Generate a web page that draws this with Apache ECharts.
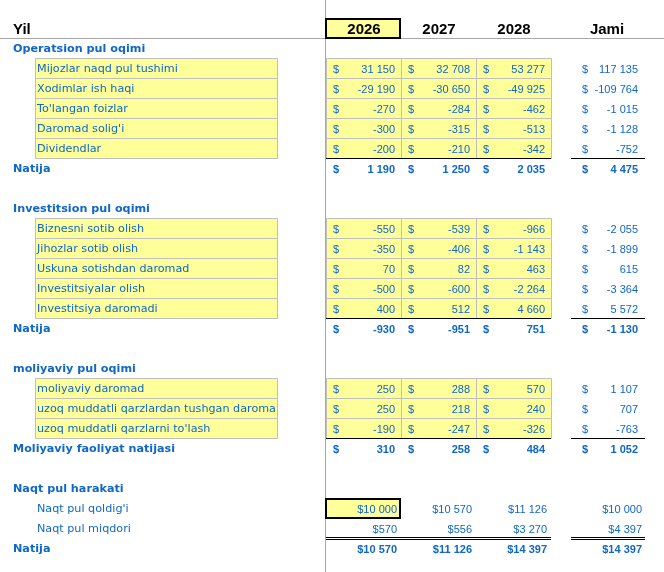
<!DOCTYPE html>
<html><head><meta charset="utf-8">
<script src="https://cdn.jsdelivr.net/npm/echarts@6/dist/echarts.min.js"></script>
<style>html,body{margin:0;padding:0;background:#fff}#c{width:664px;height:572px}</style>
</head><body><div id="c"></div>
<script>
// ---------- data ----------
const headerLabel = 'Yil';
const years = ['2026', '2027', '2028'];
const jamiLabel = 'Jami';
const totalLabel = 'Natija';

const opTitle = 'Operatsion pul oqimi';
const opLabels = ['Mijozlar naqd pul tushimi', 'Xodimlar ish haqi', "To'langan foizlar", "Daromad solig'i", 'Dividendlar'];
const opValues = [[31150, 32708, 53277], [-29190, -30650, -49925], [-270, -284, -462], [-300, -315, -513], [-200, -210, -342]];
const opJami = [117135, -109764, -1015, -1128, -752];
const opTotal = [1190, 1250, 2035];
const opTotalJami = 4475;

const invTitle = 'Investitsion pul oqimi';
const invLabels = ['Biznesni sotib olish', 'Jihozlar sotib olish', 'Uskuna sotishdan daromad', 'Investitsiyalar olish', 'Investitsiya daromadi'];
const invValues = [[-550, -539, -966], [-350, -406, -1143], [70, 82, 463], [-500, -600, -2264], [400, 512, 4660]];
const invJami = [-2055, -1899, 615, -3364, 5572];
const invTotal = [-930, -951, 751];
const invTotalJami = -1130;

const finTitle = 'moliyaviy pul oqimi';
const finLabels = ['moliyaviy daromad', 'uzoq muddatli qarzlardan tushgan daromad', "uzoq muddatli qarzlarni to'lash"];
const finValues = [[250, 288, 570], [250, 218, 240], [-190, -247, -326]];
const finJami = [1107, 707, -763];
const finTotalLabel = 'Moliyaviy faoliyat natijasi';
const finTotal = [310, 258, 484];
const finTotalJami = 1052;

const cashTitle = 'Naqt pul harakati';
const cashLabels = ["Naqt pul qoldig'i", 'Naqt pul miqdori'];
const cashValues = [[10000, 10570, 11126], [570, 556, 3270]];
const cashJami = [10000, 4397];
const cashTotal = [10570, 11126, 14397];
const cashTotalJami = 14397;

// ---------- layout (styles / positions) ----------
const BLUE = '#0f67c6';
const YELLOW = '#ffff99';
const GRID = '#bfbfbf';
const LINE = '#a6a6a6';
const COL_L = [326, 401, 476];
const COL_W = 75;
const JAMI_L = 571, JAMI_R = 645;
const LABEL_L = 35, LABEL_R = 277;
const TITLE_X = 13, ITEM_X = 37;
const FONT_LBL = '11.2px "DejaVu Sans"';
const FONT_LBL_B = 'bold 11.2px "DejaVu Sans"';
const FONT_NUM = '11px "Liberation Sans"';
const FONT_NUM_B = 'bold 11px "Liberation Sans"';
const FONT_HEAD = 'bold 15px "Liberation Sans"';

function fmt(n) {
  const s = Math.abs(n).toString().replace(/\B(?=(\d{3})+(?!\d))/g, ' ');
  return (n < 0 ? '-' : '') + s;
}

// ---------- build row list ----------
const rows = [];
rows.push({ type: 'header' });
function addSection(title, labels, values, jami, tLabel, total, tJami) {
  rows.push({ type: 'title', label: title });
  labels.forEach((l, i) => rows.push({ type: 'item', label: l, values: values[i], jami: jami[i] }));
  rows.push({ type: 'total', label: tLabel, values: total, jami: tJami });
}
addSection(opTitle, opLabels, opValues, opJami, totalLabel, opTotal, opTotalJami);
rows.push({ type: 'blank' });
addSection(invTitle, invLabels, invValues, invJami, totalLabel, invTotal, invTotalJami);
rows.push({ type: 'blank' });
addSection(finTitle, finLabels, finValues, finJami, finTotalLabel, finTotal, finTotalJami);
rows.push({ type: 'blank' });
rows.push({ type: 'title', label: cashTitle });
cashLabels.forEach((l, i) => rows.push({ type: 'cash', label: l, values: cashValues[i], jami: cashJami[i], first: i === 0 }));
rows.push({ type: 'cashTotal', label: totalLabel, values: cashTotal, jami: cashTotalJami });

const rowData = rows.map((r, i) => [0, i]);

function txt(x, y, text, font, fill, align) {
  return { type: 'text', style: { x: x, y: y, text: text, font: font, fill: fill, textAlign: align || 'left', textVerticalAlign: 'middle' } };
}

function renderItem(params, api) {
  const r = rows[params.dataIndex];
  const k = api.value(1);
  const top = Math.round(api.coord([0, k])[1]);
  const bot = Math.round(api.coord([0, k + 1])[1]);
  const mid = (top + bot) / 2 + 1.5;
  const X = (v) => Math.round(api.coord([v, k])[0]);
  const ch = [];
  if (r.type === 'header') {
    const y0 = api.coord([0, -0.9])[1], y1 = api.coord([0, rows.length + 0.7])[1];
    ch.push({ type: 'line', shape: { x1: X(325) + 0.5, y1: y0, x2: X(325) + 0.5, y2: y1 }, style: { stroke: LINE, lineWidth: 1 } });
    ch.push({ type: 'line', shape: { x1: X(0), y1: bot + 0.5, x2: X(664), y2: bot + 0.5 }, style: { stroke: LINE, lineWidth: 1 } });
    ch.push({ type: 'rect', shape: { x: X(COL_L[0]), y: top + 1, width: COL_W - 1, height: bot - top - 1 }, style: { fill: YELLOW, stroke: '#000', lineWidth: 2 } });
    ch.push(txt(X(TITLE_X), mid, headerLabel, FONT_HEAD, '#000'));
    years.forEach((y, c) => ch.push(txt(X(COL_L[c] + COL_W / 2), mid, y, FONT_HEAD, '#000', 'center')));
    ch.push(txt(X((JAMI_L + JAMI_R) / 2 - 1), mid, jamiLabel, FONT_HEAD, '#000', 'center'));
  } else if (r.type === 'title') {
    ch.push(txt(X(TITLE_X), mid, r.label, FONT_LBL_B, BLUE));
  } else if (r.type === 'item') {
    ch.push({ type: 'rect', shape: { x: X(LABEL_L) + 0.5, y: top + 0.5, width: LABEL_R - LABEL_L, height: bot - top }, style: { fill: YELLOW, stroke: GRID, lineWidth: 1 } });
    ch.push({ type: 'text', style: { x: X(ITEM_X), y: mid, text: r.label, font: FONT_LBL, fill: BLUE, textAlign: 'left', textVerticalAlign: 'middle', width: LABEL_R - ITEM_X, overflow: 'truncate', ellipsis: '' } });
    r.values.forEach((v, c) => {
      ch.push({ type: 'rect', shape: { x: X(COL_L[c]) + 0.5, y: top + 0.5, width: COL_W, height: bot - top }, style: { fill: YELLOW, stroke: GRID, lineWidth: 1 } });
      ch.push(txt(X(COL_L[c] + 7), mid, '$', FONT_NUM, BLUE));
      ch.push(txt(X(COL_L[c] + COL_W - 6), mid, fmt(v), FONT_NUM, BLUE, 'right'));
    });
    ch.push(txt(X(JAMI_L + 11), mid, '$', FONT_NUM, BLUE));
    ch.push(txt(X(JAMI_R - 7), mid, fmt(r.jami), FONT_NUM, BLUE, 'right'));
  } else if (r.type === 'total') {
    ch.push({ type: 'line', shape: { x1: X(COL_L[0]), y1: top + 0.5, x2: X(COL_L[2] + COL_W), y2: top + 0.5 }, style: { stroke: '#000', lineWidth: 1 } });
    ch.push({ type: 'line', shape: { x1: X(JAMI_L), y1: top + 0.5, x2: X(JAMI_R), y2: top + 0.5 }, style: { stroke: '#000', lineWidth: 1 } });
    ch.push(txt(X(TITLE_X), mid, r.label, FONT_LBL_B, BLUE));
    r.values.forEach((v, c) => {
      ch.push(txt(X(COL_L[c] + 7), mid, '$', FONT_NUM_B, BLUE));
      ch.push(txt(X(COL_L[c] + COL_W - 6), mid, fmt(v), FONT_NUM_B, BLUE, 'right'));
    });
    ch.push(txt(X(JAMI_L + 11), mid, '$', FONT_NUM_B, BLUE));
    ch.push(txt(X(JAMI_R - 7), mid, fmt(r.jami), FONT_NUM_B, BLUE, 'right'));
  } else if (r.type === 'cash') {
    if (r.first) {
      ch.push({ type: 'rect', shape: { x: X(COL_L[0]), y: top + 1, width: COL_W - 1, height: bot - top - 1 }, style: { fill: YELLOW, stroke: '#000', lineWidth: 2 } });
    }
    ch.push(txt(X(ITEM_X), mid, r.label, FONT_LBL, BLUE));
    r.values.forEach((v, c) => ch.push(txt(X(COL_L[c] + COL_W - 4), mid, '$' + fmt(v), FONT_NUM, BLUE, 'right')));
    ch.push(txt(X(JAMI_R - 3), mid, '$' + fmt(r.jami), FONT_NUM, BLUE, 'right'));
  } else if (r.type === 'cashTotal') {
    [[X(COL_L[0]), X(COL_L[2] + COL_W)], [X(JAMI_L), X(JAMI_R)]].forEach(([a, b]) => {
      ch.push({ type: 'line', shape: { x1: a, y1: top - 0.5, x2: b, y2: top - 0.5 }, style: { stroke: '#000', lineWidth: 1 } });
      ch.push({ type: 'line', shape: { x1: a, y1: top + 1.5, x2: b, y2: top + 1.5 }, style: { stroke: '#000', lineWidth: 1 } });
    });
    ch.push(txt(X(TITLE_X), mid, r.label, FONT_LBL_B, BLUE));
    r.values.forEach((v, c) => ch.push(txt(X(COL_L[c] + COL_W - 4), mid, '$' + fmt(v), FONT_NUM_B, BLUE, 'right')));
    ch.push(txt(X(JAMI_R - 3), mid, '$' + fmt(r.jami), FONT_NUM_B, BLUE, 'right'));
  }
  return { type: 'group', children: ch };
}

const chart = echarts.init(document.getElementById('c'), null, { renderer: 'canvas' });
chart.setOption({
  animation: false,
  backgroundColor: '#fff',
  grid: { left: 0, right: 0, top: 0, bottom: 0 },
  xAxis: { type: 'value', min: 0, max: 664, show: false },
  yAxis: { type: 'value', min: -0.9, max: 27.7, inverse: true, show: false },
  series: [{ type: 'custom', renderItem: renderItem, data: rowData, clip: false, silent: true }]
});
</script></body></html>
